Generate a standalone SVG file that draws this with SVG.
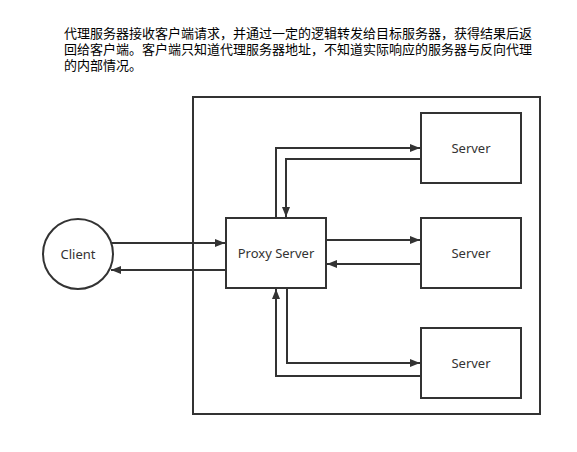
<svg xmlns="http://www.w3.org/2000/svg" width="577" height="452" viewBox="0 0 577 452">
<defs>
<style>
.box{fill:#fff;stroke:#333;stroke-width:2}
.lbl{font-family:"Noto Sans","Open Sans","Liberation Sans",sans-serif;font-size:13px;fill:#333;text-anchor:middle;dominant-baseline:central}
.desc{font-family:"Liberation Sans","Noto Sans CJK SC",sans-serif;font-size:13px;fill:#000}
.c{fill:none;stroke:#333;stroke-width:2;marker-end:url(#ah)}
</style>
<marker id="ah" viewBox="0 0 10 8" refX="10" refY="4" markerWidth="10" markerHeight="8" markerUnits="userSpaceOnUse" orient="auto">
<path d="M0,0 L10,4 L0,8 z" fill="#333"/>
</marker>
</defs>
<rect width="577" height="452" fill="#fff"/>
<g id="description">
<text class="desc" x="64" y="38">代理服务器接收客户端请求，并通过一定的逻辑转发给目标服务器，获得结果后返</text>
<text class="desc" x="64" y="54">回给客户端。客户端只知道代理服务器地址，不知道实际响应的服务器与反向代理</text>
<text class="desc" x="64" y="70">的内部情况。</text>
</g>
<g id="boundary"><rect class="box" x="193" y="97" width="347" height="317" fill="none"/></g>
<g id="client"><circle class="box" cx="78" cy="254" r="35"/><text class="lbl" x="78" y="254">Client</text></g>
<g id="proxy"><rect class="box" x="226" y="218" width="100" height="70"/><text class="lbl" x="276" y="253">Proxy Server</text></g>
<g id="server1"><rect class="box" x="421" y="113" width="100" height="70"/><text class="lbl" x="471" y="148">Server</text></g>
<g id="server2"><rect class="box" x="421" y="218" width="100" height="70"/><text class="lbl" x="471" y="253">Server</text></g>
<g id="server3"><rect class="box" x="421" y="328" width="100" height="70"/><text class="lbl" x="471" y="363">Server</text></g>
<g id="connectors">
<path class="c" d="M112,243 L225,243"/>
<path class="c" d="M226,270 L111,270"/>
<path class="c" d="M276,218 L276,148 L420,148"/>
<path class="c" d="M421,159 L286,159 L286,217"/>
<path class="c" d="M326,240 L420,240"/>
<path class="c" d="M421,264 L327,264"/>
<path class="c" d="M287,288 L287,363 L420,363"/>
<path class="c" d="M421,376 L276,376 L276,289"/>
</g>
</svg>
